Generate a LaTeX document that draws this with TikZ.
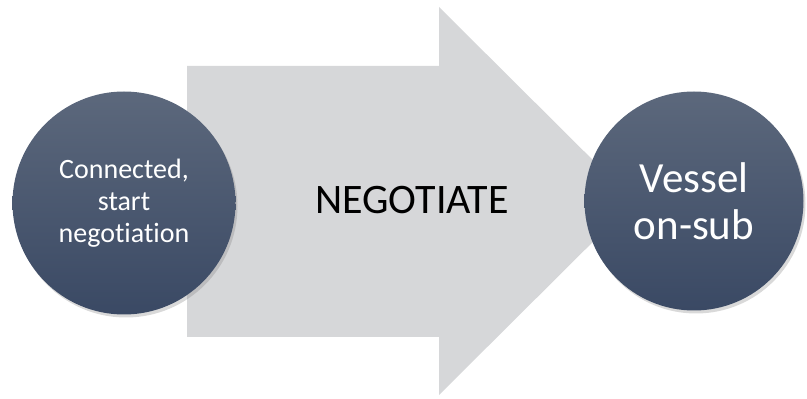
\documentclass[tikz,border=0pt]{standalone}
\usepackage{fontspec}
\setmainfont[Ligatures=NoCommon]{Carlito}
\usepackage{tikz}
\usetikzlibrary{shadows}
\definecolor{stagetop}{RGB}{92,104,124}
\definecolor{stagebottom}{RGB}{58,73,100}
\definecolor{arrowgray}{RGB}{214,215,217}
\tikzstyle{stage} = [circle, inner sep=0pt, align=center, text=white, top color=stagetop, bottom color=stagebottom, drop shadow={opacity=0.3, shadow xshift=2pt, shadow yshift=-3pt}]
\tikzstyle{bigarrow} = [fill=arrowgray]

\begin{document}
\begin{tikzpicture}[x=1pt, y=1pt]
    \useasboundingbox (0,0) rectangle (807,399);
    %the big arrow
    \fill [bigarrow] (187,62) -- (439,62) -- (439,4) -- (634,198) -- (439,392) -- (439,333) -- (187,333) -- cycle;
    \node (negotiate) [font=\fontsize{42}{50}\selectfont] at (412,199) {NEGOTIATE};

    %the two stages
    \node (connected) [stage, minimum size=223pt, font=\fontsize{28}{32}\selectfont] at (124,196) {Connected,\\ start\\ negotiation};
    \node (vessel) [stage, minimum size=219pt, font=\fontsize{43}{47}\selectfont] at (694,198) {Vessel\\ on-sub};
\end{tikzpicture}
\end{document}
